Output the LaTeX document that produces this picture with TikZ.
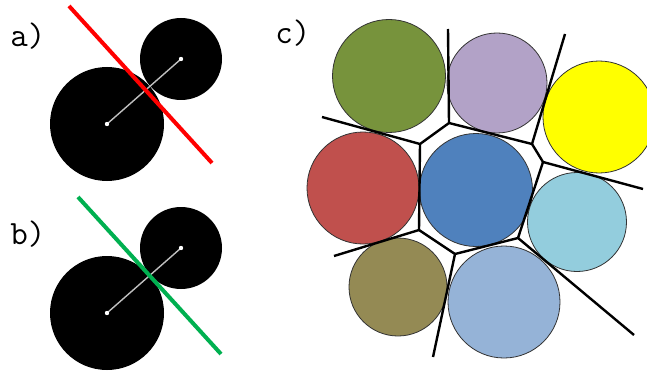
\documentclass[tikz,border=0pt]{standalone}
\definecolor{olive}{HTML}{77933C}
\definecolor{lavender}{HTML}{B2A2C7}
\definecolor{lemon}{HTML}{FFFF00}
\definecolor{brick}{HTML}{C0504D}
\definecolor{steel}{HTML}{4F81BD}
\definecolor{aqua}{HTML}{93CDDD}
\definecolor{khaki}{HTML}{948A54}
\definecolor{sky}{HTML}{95B3D7}
\definecolor{cutred}{HTML}{FF0000}
\definecolor{cutgreen}{HTML}{00B050}
\begin{document}
\begin{tikzpicture}[x=0.5pt, y=-0.5pt,
	disc/.style={circle, fill=black, inner sep=0pt},
	cell/.style={circle, draw=black!80, line width=0.4pt, inner sep=0pt},
	link/.style={gray!50, line width=0.7pt},
	wall/.style={black, line width=1.2pt},
	tag/.style={anchor=base west, inner sep=0pt, font=\ttfamily\fontsize{17}{20}\selectfont}]
	\useasboundingbox (0,0) rectangle (647,374);
	% a)
	\node [tag] (la) at (10,47) {a)};
	\node [disc, minimum size=57pt] (bigA)   at (107,124) {};
	\node [disc, minimum size=41pt] (smallA) at (181,59)  {};
	\draw [link] (bigA.center) -- (smallA.center);
	\fill [white] (bigA.center) circle [radius=2.2];
	\fill [white] (smallA.center) circle [radius=2.2];
	\coordinate (ra) at (69,6);
	\coordinate (rb) at (212,163);
	\draw [cutred, line width=2pt] (ra) -- (rb);
	% b)
	\node [tag] (lb) at (10,244) {b)};
	\node [disc, minimum size=57pt] (bigB)   at (107,313) {};
	\node [disc, minimum size=41pt] (smallB) at (181,248) {};
	\draw [link] (bigB.center) -- (smallB.center);
	\fill [white] (bigB.center) circle [radius=2.2];
	\fill [white] (smallB.center) circle [radius=2.2];
	\coordinate (ga) at (78,197);
	\coordinate (gb) at (221,354);
	\draw [cutgreen, line width=2pt] (ga) -- (gb);
	% c)
	\node [tag] (lc) at (275,44) {c)};
	\node [cell, fill=olive,    minimum size=56.5pt] (olive)    at (389,76)  {};
	\node [cell, fill=lavender, minimum size=50pt]   (lavender) at (497,83)  {};
	\node [cell, fill=lemon,    minimum size=56pt]   (lemon)    at (599,117) {};
	\node [cell, fill=brick,    minimum size=56pt]   (brick)    at (363,188) {};
	\node [cell, fill=steel,    minimum size=56.5pt] (steel)    at (476,190) {};
	\node [cell, fill=aqua,     minimum size=49.5pt] (aqua)     at (577,222) {};
	\node [cell, fill=khaki,    minimum size=49pt]   (khaki)    at (398,287) {};
	\node [cell, fill=sky,      minimum size=56pt]   (sky)      at (504,302) {};
	% cell walls
	\coordinate (v1) at (449,123);
	\coordinate (v2) at (420,144);
	\coordinate (v3) at (532,144);
	\coordinate (v4) at (543,162);
	\coordinate (v5) at (419,230);
	\coordinate (v6) at (455,254);
	\coordinate (v7) at (518,238);
	\coordinate (e1) at (448,29);
	\coordinate (e2) at (322,117);
	\coordinate (e3) at (565,34);
	\coordinate (e4) at (643,189);
	\coordinate (e5) at (334,256);
	\coordinate (e6) at (433,357);
	\coordinate (e7) at (634,335);
	\draw [wall] (e1) -- (v1) -- (v2) -- (e2);
	\draw [wall] (v1) -- (v3) -- (e3);
	\draw [wall] (v3) -- (v4) -- (e4);
	\draw [wall] (v2) -- (v5) -- (e5);
	\draw [wall] (v5) -- (v6) -- (e6);
	\draw [wall] (v6) -- (v7) -- (e7);
	\draw [wall] (v4) -- (v7);
\end{tikzpicture}
\end{document}
